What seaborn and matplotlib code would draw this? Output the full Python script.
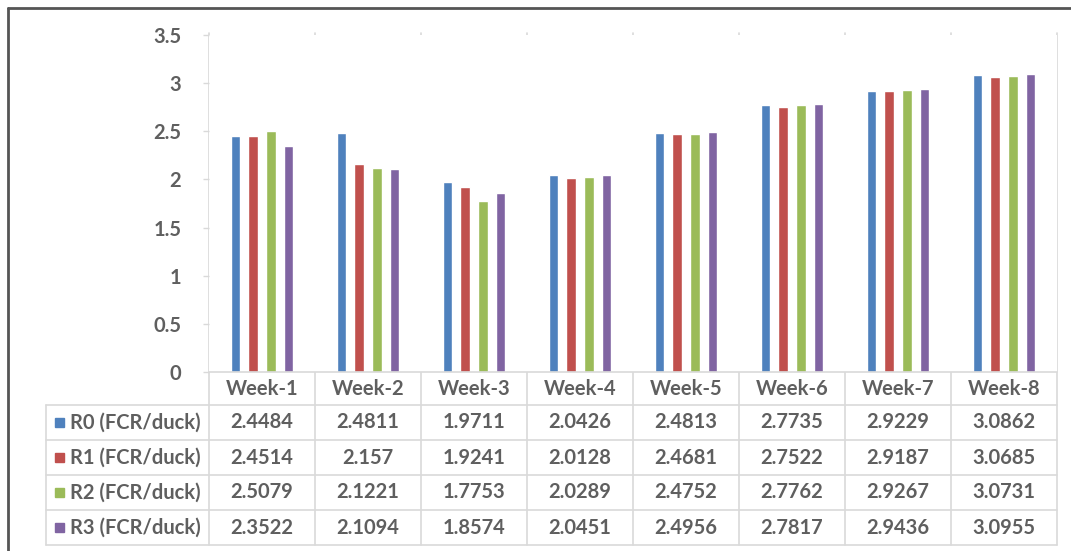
import numpy as np
import pandas as pd
import matplotlib
matplotlib.use("Agg")
import matplotlib.pyplot as plt
from matplotlib.lines import Line2D
from matplotlib.patches import Rectangle
from matplotlib.transforms import blended_transform_factory
import seaborn as sns

# ---------------- data ----------------
weeks = ["Week-1", "Week-2", "Week-3", "Week-4", "Week-5", "Week-6", "Week-7", "Week-8"]
series = ["R0 (FCR/duck)", "R1 (FCR/duck)", "R2 (FCR/duck)", "R3 (FCR/duck)"]
r0 = [2.4484, 2.4811, 1.9711, 2.0426, 2.4813, 2.7735, 2.9229, 3.0862]
r1 = [2.4514, 2.157, 1.9241, 2.0128, 2.4681, 2.7522, 2.9187, 3.0685]
r2 = [2.5079, 2.1221, 1.7753, 2.0289, 2.4752, 2.7762, 2.9267, 3.0731]
r3 = [2.3522, 2.1094, 1.8574, 2.0451, 2.4956, 2.7817, 2.9436, 3.0955]
table_text = [
    ["2.4484", "2.4811", "1.9711", "2.0426", "2.4813", "2.7735", "2.9229", "3.0862"],
    ["2.4514", "2.157", "1.9241", "2.0128", "2.4681", "2.7522", "2.9187", "3.0685"],
    ["2.5079", "2.1221", "1.7753", "2.0289", "2.4752", "2.7762", "2.9267", "3.0731"],
    ["2.3522", "2.1094", "1.8574", "2.0451", "2.4956", "2.7817", "2.9436", "3.0955"],
]
y_ticks = [0, 0.5, 1, 1.5, 2, 2.5, 3, 3.5]
y_tick_labels = ["0", "0.5", "1", "1.5", "2", "2.5", "3", "3.5"]
colors = ["#4F81BD", "#C0504D", "#9BBB59", "#8064A2"]

values = [r0, r1, r2, r3]
df = pd.DataFrame({
    "week": np.tile(weeks, len(series)),
    "series": np.repeat(series, len(weeks)),
    "fcr": np.concatenate(values),
})

# ---------------- figure ----------------
sns.set_theme(style="white")
plt.rcParams["font.family"] = ["Lato", "DejaVu Sans"]
TXT = "#5f5f5f"
GRID = "#D9D9D9"
FS = 14.5
FW = "bold"

W, H = 1071, 551
fig = plt.figure(figsize=(W / 100, H / 100), dpi=100)
fig.patch.set_facecolor("white")

def fx(x):
    return x / W

def fy(y):
    return 1 - y / H

L, R, T, B = 209, 1057, 35, 372
ax = fig.add_axes([fx(L), fy(B), fx(R - L), (B - T) / H])

sns.barplot(data=df, x="week", y="fcr", hue="series", order=weeks, hue_order=series,
            palette=colors, saturation=1, width=0.665, gap=0.46, legend=False, ax=ax)

ax.set_xlim(-0.5, len(weeks) - 0.5)
ax.set_ylim(0, 3.5)
ax.set_xlabel("")
ax.set_ylabel("")
ax.set_xticks([])
ax.set_yticks(y_ticks)
ax.set_yticklabels(y_tick_labels, fontsize=FS, color=TXT, fontweight=FW)
ax.tick_params(axis="y", length=4, width=1, color=GRID, pad=16, left=True)
for s in ax.spines.values():
    s.set_visible(False)

# blended transform: x in data, y in figure
bt = blended_transform_factory(ax.transData, fig.transFigure)

# vertical category lines (through chart and table)
for k in range(len(weeks) + 1):
    fig.add_artist(Line2D([k - 0.5, k - 0.5], [fy(545), fy(T - 2)], transform=bt,
                          color=GRID, lw=1.2, zorder=0))

# horizontal axis line
fig.add_artist(Line2D([fx(L), fx(R)], [fy(B), fy(B)], transform=fig.transFigure,
                      color=GRID, lw=1.2))
# table row lines
row_lines = [405, 440, 475, 510, 545]
for yl in row_lines:
    fig.add_artist(Line2D([fx(46), fx(R)], [fy(yl), fy(yl)], transform=fig.transFigure,
                          color=GRID, lw=1.2))
fig.add_artist(Line2D([fx(46), fx(46)], [fy(405), fy(545)], transform=fig.transFigure,
                      color=GRID, lw=1.2))

# week header labels
for i, w in enumerate(weeks):
    fig.text(i, fy(389), w, transform=bt, fontsize=FS, color=TXT, fontweight=FW,
             ha="center", va="center")

# table rows
for r in range(len(series)):
    yc = (row_lines[r] + row_lines[r + 1]) / 2
    fig.add_artist(Rectangle((fx(55), fy(yc + 4.5)), fx(9), 9 / H,
                             transform=fig.transFigure, color=colors[r]))
    fig.text(fx(70), fy(yc), series[r], fontsize=FS, color=TXT, fontweight=FW,
             ha="left", va="center")
    for i in range(len(weeks)):
        fig.text(i, fy(yc), table_text[r][i], transform=bt, fontsize=FS,
                 color=TXT, fontweight=FW, ha="center", va="center")

# outer frame (top and left visible)
fig.add_artist(Line2D([fx(8), fx(W)], [fy(8), fy(8)], transform=fig.transFigure,
                      color="#555555", lw=2))
fig.add_artist(Line2D([fx(8), fx(8)], [fy(8), fy(H)], transform=fig.transFigure,
                      color="#555555", lw=2))

fig.savefig("out.png", dpi=100, facecolor="white")
